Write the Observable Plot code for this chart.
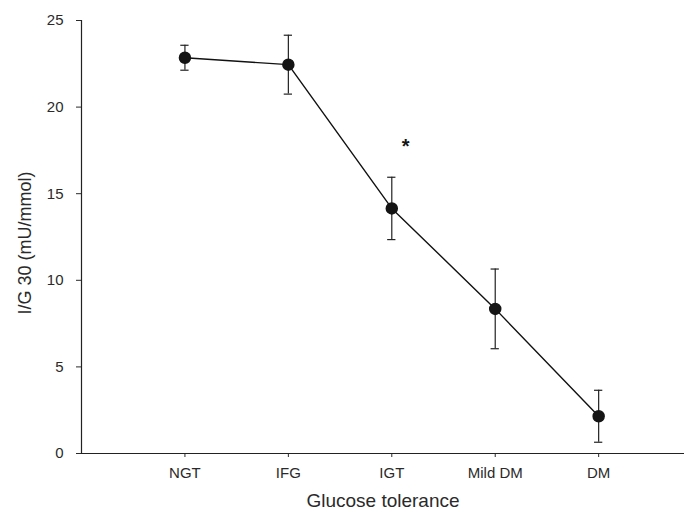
<!DOCTYPE html>
<html>
<head>
<meta charset="utf-8">
<script src="https://cdn.jsdelivr.net/npm/d3@7"></script>
<script src="https://cdn.jsdelivr.net/npm/@observablehq/plot@0.6"></script>
<style>
  html, body { margin: 0; padding: 0; background: #fff; }
  #chart svg { display: block; }
</style>
</head>
<body>
<div id="chart"></div>
<script>
const categories = ["NGT", "IFG", "IGT", "Mild DM", "DM"];
const means = [22.85, 22.45, 14.15, 8.35, 2.15];
const errors = [0.72, 1.7, 1.8, 2.3, 1.5];
const yTicks = [0, 5, 10, 15, 20, 25];
const starPos = { x: 3.135, y: 17.9 };

const data = categories.map((c, k) => ({
  i: k + 1, name: c, mean: means[k], lo: means[k] - errors[k], hi: means[k] + errors[k]
}));
const capHalf = 0.04;
const font = "'Liberation Sans', Arial, Helvetica, sans-serif";

const chart = Plot.plot({
  width: 690,
  height: 516,
  marginLeft: 81,
  marginRight: 6,
  marginTop: 20,
  marginBottom: 63,
  style: { fontFamily: font, color: "#2a2a2a", background: "#fff" },
  x: { domain: [0, 5.83] },
  y: { domain: [0, 25] },
  marks: [
    Plot.axisY({ ticks: yTicks, tickSize: 5, tickPadding: 13, fontSize: 15, label: null }),
    Plot.axisX({ ticks: data.map(d => d.i), tickFormat: v => categories[v - 1], tickSize: 4, tickPadding: 10, fontSize: 15, label: null }),
    Plot.ruleX([0], { stroke: "#222", strokeWidth: 1.2 }),
    Plot.ruleY([0], { stroke: "#222", strokeWidth: 1.2 }),
    Plot.ruleX(data, { x: "i", y1: "lo", y2: "hi", stroke: "#222", strokeWidth: 1.2 }),
    Plot.ruleY(data, { y: "hi", x1: d => d.i - capHalf, x2: d => d.i + capHalf, stroke: "#222", strokeWidth: 1.2 }),
    Plot.ruleY(data, { y: "lo", x1: d => d.i - capHalf, x2: d => d.i + capHalf, stroke: "#222", strokeWidth: 1.2 }),
    Plot.line(data, { x: "i", y: "mean", stroke: "#111", strokeWidth: 1.4 }),
    Plot.dot(data, { x: "i", y: "mean", r: 5.5, fill: "#151515", stroke: "#151515" }),
    Plot.text([starPos], { x: "x", y: "y", text: () => "*", fontSize: 20, fontWeight: "bold", fill: "#151515", dy: 3 }),
    Plot.text(["I/G 30 (mU/mmol)"], { frameAnchor: "left", textAnchor: "middle", rotate: -90, dx: -56, dy: 6, fontSize: 18, fill: "#2a2a2a" }),
    Plot.text(["Glucose tolerance"], { frameAnchor: "bottom", dy: 53, fontSize: 19, fill: "#2a2a2a" })
  ]
});
document.getElementById("chart").appendChild(chart);
</script>
</body>
</html>
